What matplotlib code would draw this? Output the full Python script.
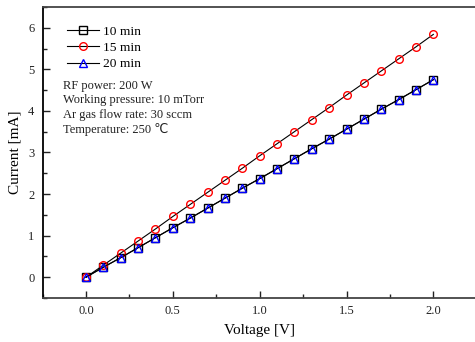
import matplotlib.pyplot as plt
from matplotlib.ticker import MultipleLocator

plt.rcParams['font.family'] = ['Liberation Serif', 'DejaVu Sans']

voltage = [0.0, 0.1, 0.2, 0.3, 0.4, 0.5, 0.6, 0.7, 0.8, 0.9, 1.0,
           1.1, 1.2, 1.3, 1.4, 1.5, 1.6, 1.7, 1.8, 1.9, 2.0]
cur_10 = [0.00, 0.24, 0.47, 0.71, 0.95, 1.19, 1.42, 1.66, 1.90, 2.14, 2.37,
          2.61, 2.85, 3.09, 3.32, 3.56, 3.80, 4.04, 4.27, 4.51, 4.75]
cur_15 = [0.00, 0.29, 0.58, 0.87, 1.16, 1.46, 1.75, 2.04, 2.33, 2.62, 2.92,
          3.21, 3.50, 3.79, 4.08, 4.38, 4.67, 4.96, 5.25, 5.54, 5.84]
cur_20 = [0.00, 0.24, 0.47, 0.71, 0.95, 1.19, 1.42, 1.66, 1.90, 2.14, 2.37,
          2.61, 2.85, 3.09, 3.32, 3.56, 3.80, 4.04, 4.27, 4.51, 4.75]
conditions = ["RF power: 200 W", "Working pressure: 10 mTorr",
              "Ar gas flow rate: 30 sccm", "Temperature: 250 \u2103"]

fig = plt.figure(figsize=(4.75, 3.42), dpi=100)
ax = fig.add_axes([0.0897, 0.1287, 0.914, 0.851])

kw = dict(color="black", lw=0.8, markersize=5.5, markerfacecolor="none", markeredgewidth=1.0)
ax.plot(voltage, cur_10, marker="s", markeredgecolor="black", label="10 min", **kw)
ax.plot(voltage, cur_15, marker="o", markeredgecolor="red", label="15 min", **kw)
ax.plot(voltage, cur_20, marker="^", markeredgecolor="blue", label="20 min", **kw)

ax.set_xlim(-0.25, 2.25)
ax.set_ylim(-0.5, 6.5)
ax.set_xticks([0.0, 0.5, 1.0, 1.5, 2.0])
ax.set_xticklabels(["0.0", "0.5", "1.0", "1.5", "2.0"])
ax.xaxis.set_minor_locator(MultipleLocator(0.25))
ax.yaxis.set_major_locator(MultipleLocator(1))
ax.yaxis.set_minor_locator(MultipleLocator(0.5))
ax.tick_params(which="both", direction="in", labelsize=9, colors="#222222", width=1.0)
ax.tick_params(which="major", length=5)
ax.tick_params(which="minor", length=3)
ax.tick_params(axis="x", pad=5)
ax.tick_params(axis="y", pad=6)

for side, sp in ax.spines.items():
    sp.set_linewidth(1.3)
    sp.set_color("black" if side == "left" else "#444444")

ax.set_xlabel("Voltage [V]", fontsize=11, labelpad=5)
ax.set_ylabel("Current [mA]", fontsize=11, labelpad=5)

ax.legend(loc="upper left", bbox_to_anchor=(0.037, 0.964), frameon=False, fontsize=9.7,
          handlelength=2.4, handletextpad=0.3, labelspacing=0.28, borderaxespad=0.2)

ax.text(0.047, 0.75, "\n".join(conditions), transform=ax.transAxes, fontsize=9,
        va="top", ha="left", linespacing=1.27, color="#222222")

fig.savefig("out.png", dpi=100)
